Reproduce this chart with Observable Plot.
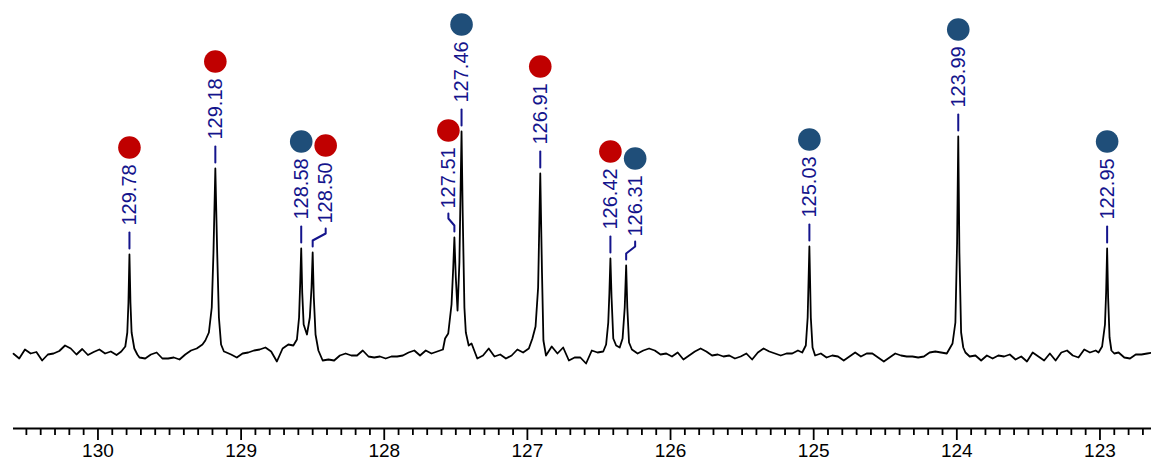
<!DOCTYPE html>
<html><head><meta charset="utf-8">
<script src="https://cdn.jsdelivr.net/npm/d3@7"></script>
<script src="https://cdn.jsdelivr.net/npm/@observablehq/plot@0.6"></script>
<style>html,body{margin:0;padding:0;background:#fff;} #chart svg{display:block;}</style>
</head><body><div id="chart"></div>
<script>
// ---------------- DATA ----------------
// baseline noise sampled on a regular ppm grid (start, step), intensities in a.u.
const ppmStart = 130.59, ppmStep = 0.04;
const baselineNoise = [
  -1.3, -6, 3, -1, 0.5, -8, -2, -1, 1.5, 7,
  4, -2, 3.5, -2.5, 0.5, 3, -1, 1, -2.5, 4,
  5, 1, -5, -6, -2, 0, -6, -6, -5, -7,
  -2, 2, 4, 8, 13, 20, 3, 0.5, -2, -5,
  -1, 0, 2, 3, 5, 1, -9, 4, 8, 7,
  10, 15, 10, 4, -8, -7, -8, -3, -1, -3,
  -3, 2, -4, -5, -4, -6, -4, -4, -3, 0,
  2, -3, 2, -1, 1, 3, 10, 50, 100, 20,
  8, -6, -3, 4, -4, -2, -6, -3, 3, 0,
  1, 25, 100, -3, 6, -1, 5, -8, -5, -5,
  -11, 2, 0, 2, 50, 7, 5, 50, -3, -1,
  2, 4, 2, -2, -1, -4, 0, -7, -3, 1,
  4, 1, -3, -2, -4, -3, -6, -4, -1, -7,
  0, 4, 1, -1, -3, -1, -1, 2, 4, 50,
  -3, -1, -5, -3, -4, -8, -4, 0, -4, -1,
  -1, -5, -9, -5, -1, -3, -4, -4, -5, -4,
  0, 1, 0, -1, 7, 100, 4, -4, -3, -8,
  -3, -6, -3, -4, -2, -7, -4, -9, 0, -4,
  -8, -1, -8, 0, 2, -3, -5, 3, 0, 2,
  4, 50, 1, 0, -5, -6, -2, -2, -1, 0
];
// peak profiles: [ppm, intensity]
const peakProfiles = [
  [[129.837,1],[129.809,6],[129.795,20],[129.787,50],[129.78,98],[129.773,50],[129.765,20],[129.746,4],[129.725,-2]],
  [[129.25,12],[129.225,20],[129.205,45],[129.193,100],[129.18,184],[129.167,100],[129.155,35],[129.14,8],[129.12,1]],
  [[128.635,7],[128.61,13],[128.595,35],[128.587,70],[128.58,104],[128.573,60],[128.563,28],[128.54,18],[128.52,35],[128.508,65],[128.50,100],[128.492,55],[128.48,18],[128.46,2]],
  [[127.59,3],[127.575,14],[127.553,19],[127.53,48],[127.518,85],[127.51,115],[127.5,75],[127.488,42],[127.475,90],[127.467,160],[127.46,221],[127.452,140],[127.44,45],[127.43,20],[127.41,7],[127.39,9]],
  [[126.99,4],[126.965,14],[126.943,26],[126.925,65],[126.91,179],[126.898,80],[126.888,12],[126.87,-3]],
  [[126.47,1],[126.45,8],[126.435,30],[126.427,60],[126.42,94],[126.412,55],[126.4,14],[126.38,7],[126.355,5],[126.335,14],[126.32,45],[126.31,87],[126.302,45],[126.29,10],[126.27,3]],
  [[125.08,0],[125.055,7],[125.042,35],[125.03,106],[125.02,35],[125.008,5],[124.99,-3]],
  [[124.05,4],[124.03,9],[124.01,30],[123.998,110],[123.99,216],[123.982,100],[123.97,20],[123.955,5],[123.94,0]],
  [[123.01,0],[122.985,6],[122.965,28],[122.957,60],[122.95,104],[122.943,55],[122.933,15],[122.92,2],[122.9,-1]]
];
const peakPpm     = [129.78, 129.18, 128.58, 128.50, 127.51, 127.46, 126.91, 126.42, 126.31, 125.03, 123.99, 122.95];
const peakLabels  = ["129.78","129.18","128.58","128.50","127.51","127.46","126.91","126.42","126.31","125.03","123.99","122.95"];
const peakHeights = [98, 184, 104, 100, 115, 221, 179, 94, 87, 106, 216, 104];
const peakSeries  = ["A","A","B","A","A","B","A","A","B","B","B","B"];
const majorTicks  = [130, 129, 128, 127, 126, 125, 124, 123];

// ---------------- LAYOUT / STYLE ----------------
const W = 1151, H = 461;
const xDomain = [130.59, 122.64];
const yDomain = [-76, 352];
const mL = 13, mR = 0, mT = 0, mB = 33;
const ppmPerPx = (xDomain[0] - xDomain[1]) / (W - mL - mR);
const unitPerPx = (yDomain[1] - yDomain[0]) / (H - mT - mB);
const labelNudgePx = {"128.50": 13, "127.51": -6, "126.31": 9};
const navy = "#14148c";
const seriesColors = {domain: ["A","B"], range: ["#c00000", "#1f4e79"]};

// ---------------- BUILD ----------------
const spans = peakProfiles.map(p => [d3.min(p, d => d[0]), d3.max(p, d => d[0])]);
const noisePts = baselineNoise
  .map((v, i) => ({ppm: +(ppmStart - i * ppmStep).toFixed(4), int: v}))
  .filter(d => !spans.some(([lo, hi]) => d.ppm >= lo - 1e-6 && d.ppm <= hi + 1e-6));
const spectrum = noisePts
  .concat(peakProfiles.flat().map(([ppm, int]) => ({ppm, int})))
  .sort((a, b) => b.ppm - a.ppm);

const px = v => v * unitPerPx;
const labels = peakPpm.map((p, i) => {
  const nud = labelNudgePx[peakLabels[i]] || 0;
  return {id: i, p, lx: p - nud * ppmPerPx, h: peakHeights[i], text: peakLabels[i], series: peakSeries[i], nud};
});
const leaders = labels.flatMap(d => d.nud === 0
  ? [{id: d.id, x: d.p, y: d.h + px(6)}, {id: d.id, x: d.p, y: d.h + px(22)}]
  : [{id: d.id, x: d.p, y: d.h + px(6)}, {id: d.id, x: d.p, y: d.h + px(12)},
     {id: d.id, x: d.lx, y: d.h + px(19)}, {id: d.id, x: d.lx, y: d.h + px(24)}]);

const minorTicks = d3.range(1305, 1226, -1).map(v => v / 10).filter(v => !Number.isInteger(v));

const marks = [
  Plot.ruleY([yDomain[0]], {stroke: "black", strokeWidth: 2}),
  Plot.axisX({ticks: minorTicks, tickSize: 7, tickFormat: () => "", strokeWidth: 1.8, label: null}),
  Plot.axisX({ticks: majorTicks, tickSize: 12, tickPadding: 3, fontSize: 19, strokeWidth: 1.8, label: null, tickFormat: d => String(d)}),
  Plot.line(spectrum, {x: "ppm", y: "int", stroke: "black", strokeWidth: 1.8}),
  Plot.line(leaders, {x: "x", y: "y", z: "id", stroke: navy, strokeWidth: 2}),
  Plot.text(labels, {x: "lx", y: d => d.h + px(29), text: "text", rotate: -90, textAnchor: "start",
                     lineAnchor: "middle", fontSize: 20, fill: navy}),
  Plot.dot(labels, {x: "lx", y: d => d.h + px(107), r: 11.3, fill: "series", stroke: "none"})
];

const chart = Plot.plot({
  width: W, height: H,
  marginLeft: mL, marginRight: mR, marginTop: mT, marginBottom: mB,
  x: {domain: xDomain, label: null},
  y: {domain: yDomain, axis: null},
  color: seriesColors,
  style: {fontFamily: "'Liberation Sans', Arial, sans-serif", background: "white", color: "black"},
  marks
});
document.getElementById("chart").append(chart);
</script>
</body></html>
